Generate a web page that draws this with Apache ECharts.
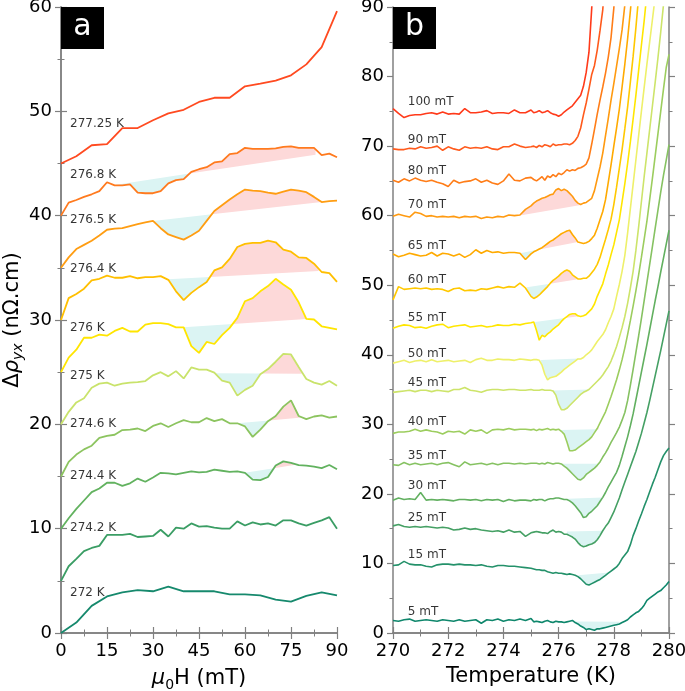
<!DOCTYPE html>
<html>
<head>
<meta charset="utf-8">
<script src="https://cdn.jsdelivr.net/npm/echarts@6/dist/echarts.min.js"></script>
<style>
html, body { margin: 0; padding: 0; background: #fff; }
#chart { width: 685px; height: 691px; }
</style>
</head>
<body>
<div id="chart"></div>
<script>
// ---------- panel a : Δρyx vs field, one curve per temperature ----------
const fieldA = [0, 2.5, 5, 7.5, 10, 12.5, 15, 17.5, 20, 22.5, 25, 27.5, 30, 32.5, 35, 37.5, 40, 42.5, 45,
  47.5, 50, 52.5, 55, 57.5, 60, 62.5, 65, 67.5, 70, 72.5, 75, 77.5, 80, 82.5, 85, 87.5, 90];
const fieldA5 = [0, 5, 10, 15, 20, 25, 30, 35, 40, 45, 50, 55, 60, 65, 70, 75, 80, 85, 90];

const a272 = [0, 1.0, 2.6, 3.5, 3.9, 4.1, 4.0, 4.45, 4.0, 4.0, 4.0, 3.7, 3.7, 3.6, 3.2, 3.0, 3.55, 3.9, 3.6];
const a274_2 = [5.0, 6.4, 7.1, 7.85, 8.15, 8.35, 9.4, 9.4, 9.4, 9.5, 9.2, 9.25, 9.3, 9.9, 9.25, 10.1, 10.0, 10.5, 10.2,
  10.25, 10.1, 10.0, 10.0, 10.7, 10.3, 10.6, 10.4, 10.5, 10.3, 10.8, 10.8, 10.5, 10.3, 10.55, 10.8, 11.1, 10.0];
const a274_4 = [10.0, 11.0, 11.9, 12.7, 13.5, 13.85, 14.4, 14.4, 14.1, 14.35, 14.8, 14.5, 14.9, 15.35, 15.3, 15.2, 15.35, 15.5, 15.4,
  15.45, 15.65, 15.55, 15.45, 15.5, 15.35, 14.7, 14.65, 14.95, 16.05, 16.45, 16.3, 16.1, 16.05, 15.95, 15.8, 16.1, 15.7];
const a274_6 = [15.0, 16.4, 17.1, 17.6, 17.95, 18.7, 18.9, 19.0, 19.45, 19.5, 19.6, 19.35, 19.85, 20.1, 19.75, 20.1, 20.4, 20.2, 20.2,
  20.6, 20.3, 20.5, 20.1, 20.1, 19.8, 18.8, 19.5, 20.3, 20.8, 21.7, 22.3, 20.8, 20.5, 20.75, 20.85, 20.65, 20.75];
const a275 = [20.0, 21.2, 22.1, 22.5, 23.5, 23.9, 24.0, 23.7, 23.9, 24.0, 24.05, 24.15, 24.7, 25.0, 24.6, 25.1, 24.4, 25.45, 25.25,
  25.25, 24.95, 24.2, 24.0, 22.75, 23.3, 23.7, 24.8, 25.3, 26.0, 26.75, 26.7, 25.5, 24.35, 24.0, 23.8, 24.15, 23.7];
const a276 = [25.0, 26.4, 27.15, 28.3, 28.3, 28.6, 28.5, 28.95, 29.25, 28.9, 28.9, 29.55, 29.7, 29.7, 29.6, 29.3, 29.3, 27.5, 26.85,
  27.9, 27.7, 28.55, 29.25, 30.2, 31.8, 32.1, 32.75, 33.25, 33.95, 33.4, 32.9, 31.7, 30.1, 30.05, 29.4, 29.25, 29.1];
const a276_4 = [30.0, 32.1, 32.5, 33.0, 33.8, 33.95, 34.25, 34.05, 34.05, 34.2, 34.0, 34.1, 34.1, 34.2, 33.85, 32.75, 31.9, 32.6, 33.15,
  33.65, 34.75, 35.05, 35.85, 37.0, 37.3, 37.4, 37.4, 37.6, 37.45, 36.75, 36.55, 36.0, 35.95, 35.4, 34.6, 34.5, 33.65];
const a276_5 = [35.0, 36.0, 36.8, 37.2, 37.6, 38.1, 38.65, 38.75, 38.8, 39.0, 39.2, 39.35, 39.5, 38.8, 38.2, 37.95, 37.7, 38.1, 38.55,
  39.5, 40.45, 41.0, 41.55, 42.05, 42.5, 42.4, 42.35, 42.2, 42.1, 42.3, 42.5, 42.4, 42.25, 41.8, 41.3, 41.4, 41.45];
const a276_8 = [40.0, 41.25, 41.5, 41.8, 42.05, 42.35, 43.2, 42.9, 42.9, 43.0, 42.2, 42.15, 42.15, 42.35, 43.1, 43.4, 43.5, 44.2, 44.45,
  44.65, 45.1, 45.2, 45.9, 46.0, 46.5, 46.4, 46.4, 46.4, 46.45, 46.6, 46.65, 46.5, 46.5, 46.5, 45.8, 45.95, 45.6];
const a277_25 = [45.0, 45.7, 46.75, 46.85, 48.4, 48.4, 49.15, 49.8, 50.15, 50.9, 51.3, 51.3, 52.4, 52.65, 52.95, 53.45, 54.5, 56.15, 59.6];

const namesA = ['272 K', '274.2 K', '274.4 K', '274.6 K', '275 K', '276 K', '276.4 K', '276.5 K', '276.8 K', '277.25 K'];
// level (in Δρ units) where each temperature label sits
const labelLevelA = [3.8, 10.1, 15.05, 20.0, 24.65, 29.25, 34.9, 39.55, 43.9, 48.8];
// straight reference line under each curve: [x0, y0, x1, y1]
const baseA = [null, null, [60, 15.35, 77, 16.15], [57.5, 20.1, 78.5, 20.65], [50.5, 24.9, 78.5, 24.85],
  [40, 29.3, 80, 30.1], [35, 33.9, 84, 34.7], [30, 39.5, 85, 41.3], [17.5, 42.95, 83, 45.85], null];
const colorsA = ['#16896d', '#3a9d64', '#62b25f', '#8cc45f', '#c9e36b', '#ffe500', '#ffbf00', '#ff9d12', '#ff7a1e', '#ff4a20'];

// ---------- panel b : Δρyx vs temperature, one curve per field ----------
const tempB = [270.0, 270.2, 270.4, 270.6, 270.8, 271.0, 271.2, 271.4, 271.6, 271.8, 272.0, 272.2, 272.4, 272.6, 272.8,
  273.0, 273.2, 273.4, 273.6, 273.8, 274.0, 274.2, 274.4, 274.6, 274.8, 275.0,
  275.1, 275.2, 275.3, 275.4, 275.5, 275.6, 275.7, 275.8, 275.9, 276.0, 276.1, 276.2, 276.3, 276.4, 276.5, 276.6, 276.7, 276.8, 276.9,
  277.0, 277.1, 277.2, 277.3, 277.4, 277.5, 277.6, 277.7, 277.8, 277.9, 278.0, 278.1, 278.2, 278.3, 278.4, 278.5, 278.6, 278.7, 278.8, 278.9,
  279.0, 279.1, 279.2, 279.3, 279.4, 279.5, 279.6, 279.7, 279.8, 279.9, 280.0];

const b5 = [1.8, 1.7, 1.9, 2.0, 1.7, 1.8, 1.9, 1.8, 1.7, 1.9, 1.8, 1.7, 1.9, 1.7, 1.8, 1.9, 1.4, 1.9, 1.8, 2.0, 1.7, 1.9, 1.8, 2.0, 1.8, 2.1,
  1.6, 1.7, 1.6, 1.5, 1.7, 1.8, 1.6, 1.5, 1.7, 1.6, 1.6, 1.5, 1.6, 1.7, 1.8, 1.5, 1.3, 1.0, 0.8,
  0.5, 0.6, 0.5, 0.4, 0.6, 0.6, 0.7, 0.8, 0.9, 1.0, 1.1, 1.2, 1.3, 1.5, 1.7, 1.9, 2.3, 2.6, 2.9, 3.1,
  3.5, 4.0, 4.7, 5.0, 5.3, 5.6, 5.9, 6.1, 6.5, 6.9, 7.4];
const b15 = [9.7, 9.8, 10.3, 9.9, 9.8, 9.8, 9.6, 9.5, 9.8, 9.9, 9.9, 9.8, 9.9, 9.8, 9.8, 9.7, 9.8, 9.6, 9.5, 9.7, 9.7, 9.6, 9.6, 9.5, 9.4, 9.3,
  9.2, 9.1, 9.1, 9.0, 9.0, 8.8, 8.7, 8.6, 8.7, 8.6, 8.6, 8.5, 8.4, 8.5, 8.4, 8.3, 8.1, 7.8, 7.4,
  7.0, 6.9, 7.1, 7.3, 7.5, 7.7, 8.0, 8.3, 8.6, 8.9, 9.2, 9.5, 10.0, 10.7, 11.2, 11.7, 12.7, 14.0, 15.0, 16.1,
  17.1, 18.2, 19.2, 20.3, 21.4, 22.4, 23.5, 24.6, 25.5, 26.1, 26.6];
const b25 = [15.4, 15.6, 15.3, 15.2, 15.3, 15.2, 15.3, 15.2, 15.1, 15.2, 15.1, 14.8, 14.9, 15.1, 14.9, 15.0, 14.8, 14.7, 14.6, 14.7, 14.5, 14.8, 14.5, 14.6, 13.9, 14.4,
  14.5, 14.6, 14.5, 14.4, 14.4, 14.3, 14.6, 14.8, 14.5, 14.6, 14.5, 14.2, 14.2, 14.0, 13.8, 13.5, 13.0, 12.6, 12.4,
  12.5, 12.7, 12.8, 13.0, 13.4, 14.0, 14.7, 15.3, 15.8, 16.6, 17.4, 18.4, 19.4, 20.6, 21.7, 22.8, 23.9, 25.0, 26.1, 27.4,
  28.7, 30.2, 31.7, 33.4, 35.2, 37.0, 38.8, 40.6, 42.5, 44.4, 46.3];
const b30 = [19.1, 19.4, 19.2, 19.3, 19.2, 20.2, 19.1, 19.2, 19.1, 19.2, 19.1, 19.0, 19.2, 19.2, 19.1, 19.2, 19.0, 19.2, 19.1, 19.2, 18.9, 19.2, 19.0, 19.1, 19.1, 19.0,
  19.2, 19.1, 19.2, 19.2, 19.0, 19.2, 19.3, 19.3, 19.4, 19.4, 19.3, 19.2, 19.2, 19.0, 18.7, 18.3, 17.8, 17.3, 16.6,
  16.7, 17.2, 17.5, 17.9, 18.3, 18.9, 19.5, 20.2, 21.0, 21.7, 22.4, 23.1, 24.1, 25.4, 26.8, 28.2, 29.8, 31.5, 33.5, 35.5,
  37.5, 39.5, 41.5, 43.6, 45.7, 47.8, 49.8, 51.9, 53.9, 55.9, 57.9];
const b35 = [24.2, 24.1, 24.5, 24.2, 24.4, 24.2, 24.3, 24.4, 24.2, 24.4, 24.5, 24.2, 23.9, 24.6, 24.2, 24.3, 24.4, 24.2, 24.4, 24.2, 24.4, 24.4, 24.3, 24.4, 24.3, 24.4,
  24.4, 24.4, 24.3, 24.4, 24.3, 24.5, 24.4, 24.3, 24.4, 24.4, 24.3, 24.0, 23.7, 23.3, 22.9, 22.5, 22.1, 22.0, 22.3,
  22.8, 23.1, 23.4, 23.7, 24.1, 24.6, 25.3, 25.9, 26.6, 27.4, 28.1, 28.8, 29.6, 30.6, 31.7, 33.4, 35.6, 37.9, 40.3, 42.7,
  45.2, 47.8, 50.4, 53.0, 55.6, 58.2, 60.8, 63.4, 65.8, 68.0, 70.2];
const b40 = [28.7, 28.9, 28.9, 29.0, 29.3, 29.0, 29.2, 29.0, 28.9, 28.6, 29.0, 28.9, 29.0, 28.6, 29.2, 29.0, 29.2, 28.7, 29.2, 29.3, 29.2, 29.4, 29.2, 29.3, 29.3, 29.2,
  29.3, 29.1, 29.3, 29.2, 29.3, 29.4, 29.2, 29.3, 29.2, 29.3, 29.0, 28.6, 27.5, 26.2, 26.2, 26.3, 26.6, 26.9, 27.2,
  27.5, 27.8, 28.2, 28.8, 29.4, 30.2, 31.0, 31.8, 32.9, 34.0, 35.2, 36.4, 37.8, 39.3, 41.0, 42.9, 44.9, 47.0, 49.2, 51.5,
  54.0, 56.6, 59.2, 62.3, 65.4, 68.6, 71.8, 75.0, 78.2, 81.3, 83.2];
const b45 = [34.6, 34.7, 34.8, 34.9, 34.7, 34.9, 34.9, 34.7, 34.9, 34.8, 34.7, 35.0, 35.0, 35.3, 34.9, 34.8, 34.6, 34.9, 35.0, 35.0, 34.9, 35.0, 35.0, 34.9, 34.9, 35.0,
  34.9, 34.9, 34.9, 35.0, 34.9, 34.9, 34.9, 34.8, 34.2, 32.9, 32.1, 32.1, 32.3, 32.7, 33.1, 33.5, 33.9, 34.3, 34.6,
  34.8, 35.0, 35.4, 35.8, 36.2, 36.6, 37.1, 37.7, 38.3, 39.1, 40.1, 41.2, 42.5, 43.9, 45.5, 47.4, 49.6, 52.0, 55.0, 58.4,
  62.0, 65.6, 69.0, 72.4, 75.8, 79.2, 82.7, 86.4, 90.3, 94.0];
const b50 = [38.8, 39.0, 39.2, 38.9, 39.1, 39.2, 39.0, 39.3, 39.0, 39.1, 39.2, 39.0, 39.1, 39.2, 38.9, 39.3, 39.5, 39.2, 39.2, 39.4, 39.3, 39.3, 39.2, 39.4, 39.3, 39.2,
  39.3, 39.3, 39.2, 38.5, 37.2, 36.4, 36.7, 36.8, 36.9, 37.2, 37.5, 37.9, 38.2, 38.5, 38.8, 39.1, 39.4, 39.4, 39.6,
  40.0, 40.3, 40.7, 41.3, 41.9, 42.4, 42.9, 43.6, 44.6, 45.5, 46.6, 48.4, 50.1, 52.0, 54.3, 57.5, 61.0, 64.5, 68.0, 71.5,
  75.0, 78.4, 81.8, 85.0, 88.2, 91.5];
const b55 = [43.8, 44.1, 44.3, 44.2, 43.9, 44.0, 43.8, 44.1, 44.3, 44.4, 43.9, 44.1, 44.2, 44.3, 44.0, 44.1, 44.2, 44.0, 44.1, 44.3, 44.2, 44.2, 44.4, 44.3, 44.5, 44.6,
  44.7, 43.5, 42.1, 42.8, 42.6, 43.0, 43.3, 43.7, 44.0, 44.3, 44.8, 45.2, 45.5, 45.8, 45.9, 45.9, 45.6, 45.5, 45.6,
  45.8, 46.2, 46.6, 47.3, 48.4, 49.3, 50.2, 51.6, 52.9, 54.4, 55.8, 57.6, 59.4, 62.0, 64.6, 67.5, 70.6, 73.9, 77.3, 80.9,
  84.5, 88.0, 92.0];
const b60 = [47.9, 49.8, 49.4, 49.5, 49.6, 49.5, 49.6, 49.4, 49.5, 49.4, 49.1, 49.5, 49.6, 49.2, 49.3, 49.2, 49.5, 49.4, 49.6, 49.8, 49.6, 49.8, 49.7, 50.3, 49.6, 48.4,
  48.1, 48.3, 48.6, 49.0, 49.4, 49.8, 50.3, 50.7, 51.0, 51.3, 51.7, 52.0, 52.2, 52.0, 51.5, 51.2, 50.9, 50.9, 51.0,
  51.0, 51.3, 51.8, 52.3, 53.0, 54.0, 55.3, 56.6, 58.0, 59.5, 61.6, 64.1, 66.8, 69.5, 72.5, 75.6, 79.2, 82.9, 87.0, 91.5];
const b65 = [54.5, 54.1, 54.3, 54.6, 54.4, 54.2, 54.3, 54.7, 54.2, 54.6, 54.5, 54.2, 54.5, 54.0, 54.4, 55.1, 54.6, 55.0, 54.7, 54.8, 54.6, 54.7, 54.7, 54.6, 53.7, 54.5,
  54.8, 55.0, 55.2, 55.4, 55.7, 56.0, 56.3, 56.5, 56.8, 57.1, 57.4, 57.6, 57.8, 57.9, 57.3, 56.8, 56.2, 56.1, 56.0,
  56.1, 56.3, 56.7, 57.2, 58.2, 59.4, 60.6, 62.3, 64.8, 67.3, 70.0, 72.6, 75.3, 78.5, 81.8, 85.4, 89.4, 94.0];
const b70 = [59.9, 60.2, 60.0, 59.8, 60.5, 60.3, 59.9, 60.0, 59.8, 59.9, 59.8, 59.9, 59.7, 59.9, 59.8, 59.9, 59.6, 59.8, 59.7, 59.9, 59.8, 60.1, 60.0, 60.1, 60.9, 61.4,
  61.8, 62.1, 62.3, 62.5, 62.6, 62.8, 63.0, 63.1, 63.7, 63.9, 63.6, 63.8, 63.6, 63.2, 62.8, 62.2, 61.8, 61.6, 61.8,
  61.9, 62.2, 62.5, 63.6, 65.3, 67.0, 69.0, 71.5, 74.0, 76.6, 79.0, 81.5, 84.0, 86.7, 90.3, 95.0];
const b80 = [65.1, 64.8, 65.3, 65.0, 65.4, 65.1, 64.9, 65.1, 64.8, 64.6, 64.2, 65.1, 64.7, 64.9, 65.0, 65.3, 64.8, 65.1, 64.7, 64.5, 65.0, 66.0, 65.1, 65.0, 65.4, 65.5,
  65.2, 65.0, 65.3, 65.6, 65.1, 65.7, 65.5, 65.9, 65.6, 66.1, 65.9, 66.2, 66.6, 66.4, 66.6, 66.5, 66.8, 66.9, 67.1,
  67.4, 68.3, 70.3, 72.4, 74.6, 76.6, 78.5, 80.5, 82.8, 85.6, 89.8, 96.0];
const b90 = [69.6, 69.5, 69.5, 69.7, 69.6, 69.9, 69.7, 69.8, 70.0, 69.4, 69.9, 69.6, 69.4, 69.9, 69.7, 69.8, 69.7, 69.9, 69.6, 69.5, 69.9, 69.9, 70.3, 70.0, 69.8, 69.9,
  70.0, 69.8, 70.1, 69.9, 70.2, 70.1, 69.9, 70.3, 70.1, 70.2, 70.2, 70.3, 70.3, 70.2, 70.4, 70.8, 71.4, 72.6, 74.5,
  76.2, 78.2, 80.3, 81.6, 83.8, 86.6, 89.6, 95.0];
const b100 = [75.4, 74.7, 74.1, 74.4, 74.5, 74.5, 74.7, 74.8, 74.6, 74.9, 74.6, 74.7, 74.6, 75.4, 74.8, 74.8, 74.9, 75.1, 74.7, 74.8, 74.8, 74.7, 75.2, 74.8, 74.8, 75.2,
  74.8, 74.9, 75.1, 74.8, 74.9, 75.1, 74.8, 74.6, 74.5, 74.3, 74.5, 74.9, 75.2, 75.5, 75.8, 76.3, 76.8, 77.3, 78.6,
  80.6, 83.5, 89.8, 97.0];

const namesB = ['5 mT', '15 mT', '25 mT', '30 mT', '35 mT', '40 mT', '45 mT', '50 mT', '55 mT', '60 mT', '65 mT', '70 mT', '80 mT', '90 mT', '100 mT'];
const baseB = [[276.6, 1.65, 278.2, 1.6], [276.7, 8.3, 277.85, 8.7], [276.3, 14.6, 277.6, 14.7], [276.35, 19.3, 277.65, 19.5],
  [276.1, 24.35, 277.45, 24.35], [276.05, 29.2, 277.45, 29.3], [275.8, 34.85, 277.1, 35.0], [275.35, 39.25, 276.75, 39.45],
  [275.15, 44.7, 276.75, 45.55], [274.85, 49.7, 276.75, 50.9], [274.6, 54.6, 276.7, 56.2], [274.65, 60.05, 276.8, 61.55],
  null, null, null];
const colorsB = ['#0f876c', '#24916a', '#45a064', '#62b060', '#86c262', '#9ccd5e', '#cde46a', '#eef06a', '#ffe600',
  '#ffc800', '#ffaa00', '#ff9a10', '#ff7d18', '#ff5a1c', '#ff3a1a'];

const PINK = '#fdd9d9';
const CYAN = '#dbf4f3';
const FONT = 'DejaVu Sans';
const GRAY = '#808080';

const curvesA = [
  { x: fieldA5, y: a272 }, { x: fieldA, y: a274_2 }, { x: fieldA, y: a274_4 }, { x: fieldA, y: a274_6 },
  { x: fieldA, y: a275 }, { x: fieldA, y: a276 }, { x: fieldA, y: a276_4 }, { x: fieldA, y: a276_5 },
  { x: fieldA, y: a276_8 }, { x: fieldA5, y: a277_25 }
];
const curvesB = [b5, b15, b25, b30, b35, b40, b45, b50, b55, b60, b65, b70, b80, b90, b100].map(v => ({ x: tempB, y: v }));

function valueAt(xs, ys, t) {
  for (let i = 0; i < ys.length - 1; i++) {
    if (xs[i] <= t && t <= xs[i + 1]) {
      return ys[i] + (ys[i + 1] - ys[i]) * (t - xs[i]) / (xs[i + 1] - xs[i]);
    }
  }
  return ys[ys.length - 1];
}

// split the area between a curve and its straight reference line into
// pieces above (pink) and below (cyan)
function shadePieces(xs, ys, b) {
  const [t0, v0, t1, v1] = b;
  const base = t => v0 + (v1 - v0) * (t - t0) / (t1 - t0);
  const pts = [[t0, valueAt(xs, ys, t0)]];
  xs.forEach((x, i) => { if (x > t0 && x < t1 && i < ys.length) pts.push([x, ys[i]]); });
  pts.push([t1, valueAt(xs, ys, t1)]);
  const pieces = [];
  let cur = [pts[0]];
  const close = run => {
    let s = 0;
    run.forEach(p => { s += p[1] - base(p[0]); });
    const first = run[0][0], last = run[run.length - 1][0];
    pieces.push({ pts: run.concat([[last, base(last)], [first, base(first)]]), fill: s > 0 ? PINK : CYAN });
  };
  for (let i = 1; i < pts.length; i++) {
    const [xa, ya] = pts[i - 1];
    const [xb, yb] = pts[i];
    const da = ya - base(xa), db = yb - base(xb);
    if (da * db < 0) {
      const xc = xa + (xb - xa) * da / (da - db);
      const pc = [xc, base(xc)];
      cur.push(pc);
      close(cur);
      cur = [pc];
    }
    cur.push([xb, yb]);
  }
  close(cur);
  return pieces;
}

const piecesA = [];
curvesA.forEach((c, k) => { if (baseA[k]) piecesA.push(...shadePieces(c.x, c.y, baseA[k])); });
const piecesB = [];
curvesB.forEach((c, k) => { if (baseB[k]) piecesB.push(...shadePieces(c.x, c.y, baseB[k])); });

function shadeSeries(pieces, xi, yi) {
  return {
    type: 'custom', xAxisIndex: xi, yAxisIndex: yi, z: 1, silent: true, clip: true,
    data: pieces.map(p => p.pts[0]),
    renderItem: (params, api) => {
      const p = pieces[params.dataIndex];
      return { type: 'polygon', shape: { points: p.pts.map(q => api.coord(q)) }, style: { fill: p.fill } };
    }
  };
}

function lineSeries(curves, colors, xi, yi, w) {
  return curves.map((c, k) => ({
    type: 'line', xAxisIndex: xi, yAxisIndex: yi, z: 3, silent: true,
    showSymbol: false, symbol: 'none',
    data: c.y.map((v, i) => [c.x[i], v]),
    lineStyle: { color: colors[k], width: w },
    itemStyle: { color: colors[k] }
  }));
}

function labelSeries(items, xi, yi) {
  return {
    type: 'scatter', xAxisIndex: xi, yAxisIndex: yi, z: 4, silent: true,
    symbolSize: 1, itemStyle: { color: 'rgba(0,0,0,0)' },
    label: { show: true, position: 'right', distance: 0, fontFamily: FONT, fontSize: 12, color: '#000' },
    data: items
  };
}

const labelsA = namesA.map((n, k) => ({ value: [2.8, labelLevelA[k]], label: { formatter: n } }));
const labelsB = curvesB.map((c, k) => ({ value: [270.52, Math.max(...c.y.slice(0, 6)) + 1.0], label: { formatter: namesB[k] } }));

const richName = {
  g: { fontFamily: FONT, fontSize: 21, color: '#000', lineHeight: 26 },
  r: { fontFamily: FONT, fontSize: 21, fontStyle: 'italic', color: '#000', lineHeight: 26 },
  s: { fontFamily: FONT, fontSize: 14, fontStyle: 'italic', color: '#000', lineHeight: 14, verticalAlign: 'bottom' },
  s0: { fontFamily: FONT, fontSize: 14, color: '#000', lineHeight: 14, verticalAlign: 'bottom' }
};

function xAxisPair(grid, min, max, interval, name) {
  const common = {
    gridIndex: grid, type: 'value', min: min, max: max, interval: interval,
    axisLine: { show: true, lineStyle: { color: GRAY, width: 1.5 } },
    axisTick: { show: true, inside: false, length: 6, lineStyle: { color: GRAY, width: 1.2 } },
    minorTick: { show: true, splitNumber: 2, length: 3.5, lineStyle: { color: GRAY, width: 1 } },
    splitLine: { show: false }
  };
  return [
    Object.assign({}, common, {
      position: 'bottom',
      axisLabel: { fontFamily: FONT, fontSize: 18, color: '#000', margin: 9 },
      name: name, nameLocation: 'middle', nameGap: 33,
      nameTextStyle: { fontFamily: FONT, fontSize: 21, color: '#000', rich: richName }
    }),
    Object.assign({}, common, { position: 'top', axisLabel: { show: false } })
  ];
}

function yAxisPair(grid, name) {
  const common = {
    gridIndex: grid, type: 'value', min: 0, max: grid === 0 ? 60 : 90, interval: 10,
    axisLine: { show: true, lineStyle: { color: GRAY, width: 1.5 } },
    axisTick: { show: true, inside: false, length: 6, lineStyle: { color: GRAY, width: 1.2 } },
    minorTick: { show: true, splitNumber: 2, length: 3.5, lineStyle: { color: GRAY, width: 1 } },
    splitLine: { show: false }
  };
  const left = Object.assign({}, common, {
    position: 'left',
    axisLabel: { fontFamily: FONT, fontSize: 18, color: '#000', margin: 9 }
  });
  if (name) {
    Object.assign(left, {
      name: name, nameLocation: 'middle', nameGap: 34, nameRotate: 90,
      nameTextStyle: { fontFamily: FONT, fontSize: 21, color: '#000', rich: richName }
    });
  }
  return [left, Object.assign({}, common, { position: 'right', axisLabel: { show: false } })];
}

const chart = echarts.init(document.getElementById('chart'), null, { renderer: 'canvas' });
chart.setOption({
  animation: false,
  backgroundColor: '#fff',
  grid: [
    { left: 61, right: 348, top: 7, bottom: 58, outerBoundsMode: 'none' },
    { left: 393, right: 16, top: 7, bottom: 58, outerBoundsMode: 'none' }
  ],
  xAxis: [
    ...xAxisPair(0, 0, 90, 15, '{r|μ}{s0|0}{g|H (mT)}'),
    ...xAxisPair(1, 270, 280, 2, 'Temperature (K)')
  ],
  yAxis: [
    ...yAxisPair(0, '{g|Δ}{r|ρ}{s|yx}{g| (nΩ.cm)}'),
    ...yAxisPair(1, null)
  ],
  graphic: [
    { type: 'rect', z: 10, x: 61, y: 7, shape: { width: 43, height: 42 }, style: { fill: '#000' } },
    { type: 'text', z: 11, x: 82.5, y: 27, style: { text: 'a', fill: '#fff', fontFamily: FONT, fontSize: 30, align: 'center', verticalAlign: 'middle' } },
    { type: 'rect', z: 10, x: 393, y: 7, shape: { width: 43, height: 42 }, style: { fill: '#000' } },
    { type: 'text', z: 11, x: 414.5, y: 27, style: { text: 'b', fill: '#fff', fontFamily: FONT, fontSize: 30, align: 'center', verticalAlign: 'middle' } }
  ],
  series: [
    shadeSeries(piecesA, 0, 0),
    shadeSeries(piecesB, 2, 2),
    ...lineSeries(curvesA, colorsA, 0, 0, 1.8),
    ...lineSeries(curvesB, colorsB, 2, 2, 1.6),
    labelSeries(labelsA, 0, 0),
    labelSeries(labelsB, 2, 2)
  ]
});
</script>
</body>
</html>
